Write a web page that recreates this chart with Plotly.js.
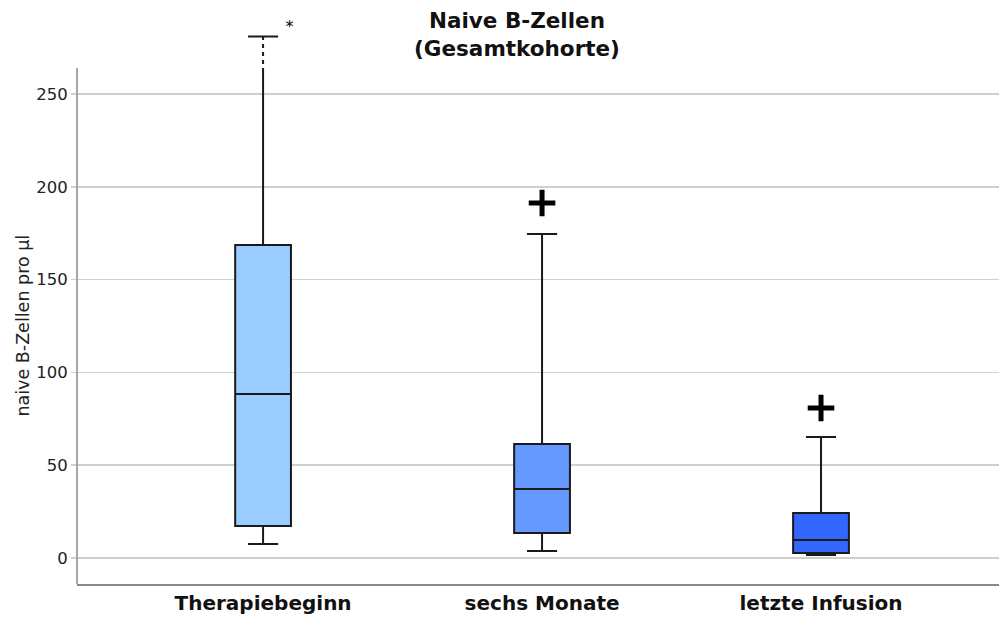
<!DOCTYPE html>
<html>
<head>
<meta charset="utf-8">
<script src="https://cdn.plot.ly/plotly-3.0.1.min.js"></script>
<style>html,body{margin:0;padding:0;background:#fff;}#chart{width:999px;height:617px;}</style>
</head>
<body>
<div id="chart"></div>
<script>
// ---- data ----
var categories = ["Therapiebeginn", "sechs Monate", "letzte Infusion"];
var lowerWhisker = [7.5, 3.8, 1.6];
var q1 = [17.2, 13.5, 2.7];
var median = [88.4, 37.2, 9.7];
var q3 = [168.6, 61.4, 24.2];
var upperWhisker = [281, 174.6, 65.2];
var boxColors = ["#99CCFF", "#6699FF", "#3366FF"];
// outliers (+) : category index and value
var outlierCat = [1, 2];
var outlierVal = [191.3, 80.8];
// extreme values (*)
var extremeCat = [0];
var extremeVal = [285.5];
var yTickVals = [0, 50, 100, 150, 200, 250];
var yTitle = "naive B-Zellen pro µl";

// ---- layout constants ----
var axisTop = 264;    // top of the drawn value axis
var axisBottom = -14;

var traces = [];
categories.forEach(function (c, i) {
  traces.push({
    type: "box",
    x: [i],
    q1: [q1[i]], median: [median[i]], q3: [q3[i]],
    lowerfence: [lowerWhisker[i]], upperfence: [upperWhisker[i]],
    boxpoints: false,
    width: 0.2,
    whiskerwidth: 0.54,
    fillcolor: boxColors[i],
    line: {color: "#1a1a1a", width: 2},
    hoverinfo: "skip",
    showlegend: false
  });
});

// dashed part of whiskers that run beyond the axis top (white gaps over the whisker)
categories.forEach(function (c, i) {
  if (upperWhisker[i] > axisTop) {
    traces.push({
      type: "scatter", mode: "lines",
      x: [i, i], y: [axisTop, upperWhisker[i] - 1],
      line: {color: "#ffffff", width: 5, dash: "4px,4px"},
      hoverinfo: "skip", showlegend: false
    });
  }
});

traces.push({
  type: "scatter", mode: "markers",
  x: outlierCat, y: outlierVal,
  marker: {symbol: "cross-thin", size: 19, line: {color: "#000", width: 5}, color: "#000"},
  cliponaxis: false, hoverinfo: "skip", showlegend: false
});

traces.push({
  type: "scatter", mode: "text",
  x: extremeCat.map(function (v) { return v + 0.095; }), y: extremeVal,
  text: extremeVal.map(function () { return "*"; }),
  textfont: {family: "DejaVu Sans", size: 16, color: "#000"},
  textposition: "middle center",
  cliponaxis: false, hoverinfo: "skip", showlegend: false
});

var layout = {
  width: 999, height: 617,
  margin: {l: 77, r: 0, t: 20, b: 33},
  paper_bgcolor: "#fff", plot_bgcolor: "#fff",
  font: {family: "DejaVu Sans", color: "#222"},
  title: {
    text: "<b>Naive B-Zellen<br>(Gesamtkohorte)</b>",
    font: {family: "DejaVu Sans", size: 21.5, color: "#111"},
    x: 0.5175, xref: "container", xanchor: "center",
    y: 0.955, yref: "container", yanchor: "top"
  },
  xaxis: {
    range: [-0.667, 2.638],
    tickmode: "array", tickvals: [0, 1, 2],
    ticktext: categories.map(function (c) { return "<b>" + c + "</b>"; }),
    tickfont: {family: "DejaVu Sans", size: 20, color: "#111"},
    showgrid: false, zeroline: false,
    showline: true, linecolor: "#888", linewidth: 1.5,
    ticks: "", fixedrange: true
  },
  yaxis: {
    range: [axisBottom, 289.9],
    tickmode: "array", tickvals: yTickVals,
    tickfont: {family: "DejaVu Sans", size: 16.5, color: "#222"},
    showgrid: true, gridcolor: "#d0d0d0", gridwidth: 1.5,
    zeroline: false, showline: false,
    ticks: "outside", ticklen: 5, tickcolor: "#d0d0d0", tickwidth: 1.5,
    fixedrange: true
  },
  annotations: [{
    text: yTitle, textangle: -90,
    xref: "paper", yref: "y",
    x: -0.058, y: (axisTop + axisBottom) / 2,
    xanchor: "center", yanchor: "middle", showarrow: false,
    font: {family: "DejaVu Sans", size: 17.5, color: "#222"}
  }],
  shapes: [{
    type: "line", xref: "paper", yref: "y",
    x0: 0, x1: 0, y0: axisBottom, y1: axisTop,
    line: {color: "#888", width: 1.5}
  }]
};

Plotly.newPlot("chart", traces, layout, {displayModeBar: false, staticPlot: true});
</script>
</body>
</html>
